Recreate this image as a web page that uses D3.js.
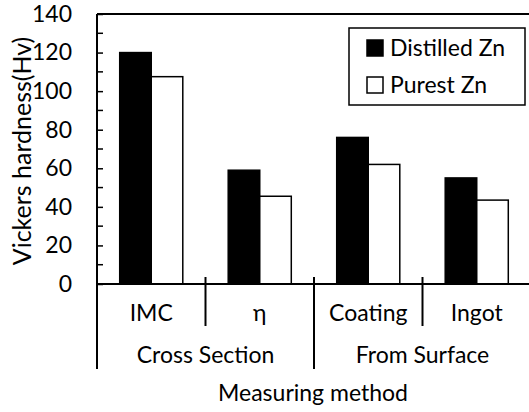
<!DOCTYPE html>
<html>
<head>
<meta charset="utf-8">
<script src="https://cdn.jsdelivr.net/npm/d3@7"></script>
<style>
  body { margin: 0; background: #fff; }
  text { font-family: Lato, "Open Sans", sans-serif; fill: #000; }
</style>
</head>
<body>
<div id="chart"></div>
<script>
// chart values
var categories = ["IMC", "η", "Coating", "Ingot"];
var groups = ["Cross Section", "From Surface"];
var groupSize = [2, 2];
var seriesNames = ["Distilled Zn", "Purest Zn"];
var distilled = [120, 59, 76, 55];
var purest = [107.5, 45.5, 62, 43.5];
var yTicks = [0, 20, 40, 60, 80, 100, 120, 140];

var width = 529, height = 412;
var mLeft = 97, mRight = 531, mTop = 14, mBottom = 284;
var fs = 23;

var svg = d3.select("#chart").append("svg")
            .attr("width", width)
            .attr("height", height);

var x = d3.scaleBand().domain(categories).range([mLeft, mRight]);
var xInner = d3.scaleBand().domain(seriesNames)
               .range([0, x.bandwidth()])
               .paddingOuter(0.72);
var y = d3.scaleLinear().domain([0, 140]).range([mBottom, mTop]);

var rows = categories.map(function(c, i) {
  return { cat: c, vals: [distilled[i], purest[i]] };
});

// bars
var g = svg.append("g").selectAll("g")
  .data(rows).enter().append("g")
  .attr("transform", function(d) { return "translate(" + x(d.cat) + ",0)"; });

g.selectAll("rect")
  .data(function(d) { return d.vals.map(function(v, j) { return { s: seriesNames[j], v: v }; }); })
  .enter().append("rect")
  .attr("x", function(d) { return xInner(d.s); })
  .attr("y", function(d) { return y(d.v); })
  .attr("width", xInner.bandwidth())
  .attr("height", function(d) { return y(0) - y(d.v); })
  .attr("fill", function(d, j) { return j == 0 ? "#000" : "#fff"; })
  .attr("stroke", "#000")
  .attr("stroke-width", 1.5);

// top frame line
svg.append("line")
   .attr("x1", mLeft).attr("x2", mRight)
   .attr("y1", mTop).attr("y2", mTop)
   .attr("stroke", "#000").attr("stroke-width", 2);

// y axis with inside ticks
var yAxis = d3.axisLeft(y).tickValues(yTicks).tickSize(-6).tickPadding(25);
var yAxisGroup = svg.append("g")
  .attr("transform", "translate(" + mLeft + ",0)")
  .call(yAxis);
yAxisGroup.select(".domain").remove();
yAxisGroup.selectAll("line").attr("stroke-width", 1.5);
yAxisGroup.selectAll("text").style("font-size", fs + "px").style("font-family", "Lato");

// minor ticks
svg.append("g").selectAll("line")
  .data(d3.range(10, 140, 20)).enter().append("line")
  .attr("x1", mLeft).attr("x2", mLeft + 6)
  .attr("y1", function(d) { return y(d); })
  .attr("y2", function(d) { return y(d); })
  .attr("stroke", "#000").attr("stroke-width", 1.5);

// y axis line (extends down through category area)
svg.append("line")
   .attr("x1", mLeft).attr("x2", mLeft)
   .attr("y1", mTop).attr("y2", 369)
   .attr("stroke", "#000").attr("stroke-width", 2);

// zero line
svg.append("line")
   .attr("x1", mLeft).attr("x2", mRight)
   .attr("y1", y(0)).attr("y2", y(0))
   .attr("stroke", "#000").attr("stroke-width", 2);

// category separators
var bounds = [];
categories.forEach(function(c, i) { if (i > 0) bounds.push(i); });
var groupStart = [0];
groupSize.forEach(function(n, i) { groupStart.push(groupStart[i] + n); });

svg.append("g").selectAll("line")
  .data(bounds).enter().append("line")
  .attr("x1", function(i) { return x(categories[i]); })
  .attr("x2", function(i) { return x(categories[i]); })
  .attr("y1", y(0) - 7)
  .attr("y2", function(i) { return groupStart.indexOf(i) >= 0 ? 369 : 326; })
  .attr("stroke", "#000").attr("stroke-width", 2);

// category labels
svg.append("g").selectAll("text")
  .data(categories).enter().append("text")
  .attr("x", function(d) { return x(d) + x.bandwidth() / 2; })
  .attr("y", 321)
  .attr("text-anchor", "middle")
  .style("font-size", fs + "px")
  .text(function(d) { return d; });

// group labels
svg.append("g").selectAll("text")
  .data(groups).enter().append("text")
  .attr("x", function(d, i) {
    var a = x(categories[groupStart[i]]);
    var b = x(categories[groupStart[i + 1] - 1]) + x.bandwidth();
    return (a + b) / 2;
  })
  .attr("y", 363)
  .attr("text-anchor", "middle")
  .style("font-size", fs + "px")
  .text(function(d) { return d; });

// axis titles
svg.append("text")
   .attr("x", 313).attr("y", 401)
   .attr("text-anchor", "middle")
   .style("font-size", fs + "px")
   .text("Measuring method");

svg.append("text")
   .attr("transform", "translate(31,151) rotate(-90)")
   .attr("text-anchor", "middle")
   .style("font-size", "25px")
   .text("Vickers hardness(Hv)");

// legend
var legend = svg.append("g");
legend.append("rect")
  .attr("x", 349).attr("y", 28).attr("width", 176).attr("height", 77)
  .attr("fill", "#fff").attr("stroke", "#000").attr("stroke-width", 1.5);
var item = legend.selectAll("g.item")
  .data(seriesNames).enter().append("g")
  .attr("transform", function(d, i) { return "translate(367," + (40 + i * 37) + ")"; });
item.append("rect")
  .attr("width", 16).attr("height", 16)
  .attr("fill", function(d, i) { return i == 0 ? "#000" : "#fff"; })
  .attr("stroke", "#000").attr("stroke-width", 1.5);
item.append("text")
  .attr("x", 23).attr("y", 16)
  .style("font-size", fs + "px")
  .text(function(d) { return d; });
</script>
</body>
</html>
